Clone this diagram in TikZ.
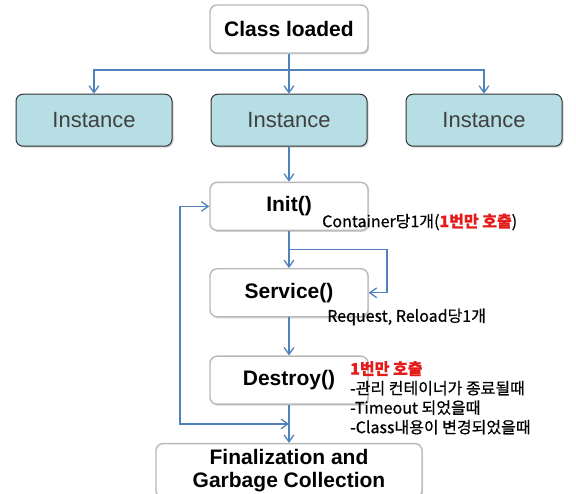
\documentclass[tikz,border=0pt]{standalone}
\usepackage{fontspec}
\setmainfont{Liberation Sans}
\newfontfamily\kr[FakeBold=0.6]{Noto Sans CJK KR}
\usetikzlibrary{arrows.meta, positioning, calc, shadows}
\definecolor{flow}{RGB}{79,129,189}
\definecolor{instfill}{RGB}{183,221,229}
\definecolor{note}{RGB}{228,28,28}

\begin{document}
\begin{tikzpicture}[
        x=1pt, y=1pt,
        >={Straight Barb[length=2.4mm, width=3.4mm]},
        stage/.style={draw=gray!55, line width=1.4pt, rounded corners=7pt, fill=white, align=center,
            minimum width=158pt, minimum height=48pt, font=\fontsize{21}{23}\selectfont\bfseries,
            drop shadow={shadow xshift=1.2pt, shadow yshift=-1.5pt, opacity=.35}},
        inst/.style={draw=black!80, line width=1pt, rounded corners=7pt, fill=instfill,
            minimum width=156pt, minimum height=52pt, text=black!75, font=\fontsize{22}{24}\selectfont,
            drop shadow={shadow xshift=1.5pt, shadow yshift=-1.5pt, opacity=.35}},
        link/.style={draw=flow, line width=1.3pt},
        memo/.style={font=\kr\fontsize{16}{19.5}\selectfont, inner sep=0pt, align=left}
    ]
    \useasboundingbox (0,0) rectangle (576,493);
    %=================== load and instances ===================
    \node[stage] (cls) at (289,464) {Class loaded};
    \node[inst, below=40pt of cls] (inst2) {Instance};
    \node[inst, left=38pt of inst2] (inst1) {Instance};
    \node[inst, right=38pt of inst2] (inst3) {Instance};
    \coordinate (bus) at (289,423);
    \draw[link] (cls) -- (bus);
    \draw[link,->] (bus) -| (inst1);
    \draw[link,->] (bus) -- (inst2);
    \draw[link,->] (bus) -| (inst3);

    %=================== life cycle ===================
    \node[stage, below=35pt of inst2] (init) {Init()};
    \node[stage, below=37pt of init] (service) {Service()};
    \node[stage, below=38pt of service] (destroy) {Destroy()};
    \node[stage, below=38pt of destroy, minimum width=266pt, minimum height=54pt] (final)
        {Finalization and\\Garbage Collection};
    \draw[link,->] (inst2) -- (init);
    \draw[link,->] (init) -- (service);
    \draw[link,->] (service) -- (destroy);
    \draw[link,->] (destroy) -- (final);
    % service loop
    \coordinate (br) at ($(init.south)!0.5!(service.north)$);
    \draw[link,->] (br) -- ++(98,0) |- (service.east);
    % back to init
    \coordinate (merge) at ($(destroy.south)!0.5!(final.north)$);
    \draw[link,<->] (merge) -- ++(-109,0) |- (init.west);

    %=================== notes ===================
    \node[memo, anchor=west] (n1) at (322,271) {Container당1개({\color{note}\bfseries 1번만 호출})};
    \node[memo, anchor=west] (n2) at (327,176) {Request, Reload당1개};
    \node[memo, anchor=north west] (n3) at (350,132)
        {{\color{note}\bfseries 1번만 호출}\\-관리 컨테이너가 종료될때\\-Timeout 되었을때\\-Class내용이 변경되었을때};
\end{tikzpicture}
\end{document}
